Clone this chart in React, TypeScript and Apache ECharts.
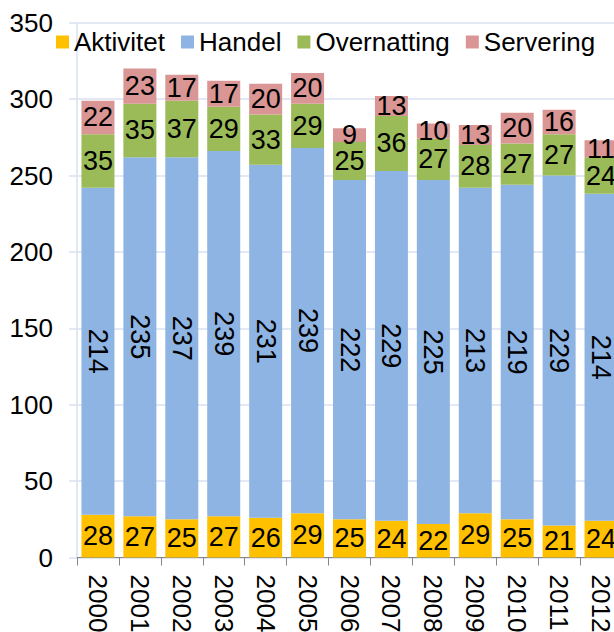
import React, { useEffect, useRef } from "react";
import * as echarts from "echarts";

const years = ["2000", "2001", "2002", "2003", "2004", "2005", "2006", "2007", "2008", "2009", "2010", "2011", "2012"];
const aktivitet = [28, 27, 25, 27, 26, 29, 25, 24, 22, 29, 25, 21, 24];
const handel = [214, 235, 237, 239, 231, 239, 222, 229, 225, 213, 219, 229, 214];
const overnatting = [35, 35, 37, 29, 33, 29, 25, 36, 27, 28, 27, 27, 24];
const servering = [22, 23, 17, 17, 20, 20, 9, 13, 10, 13, 20, 16, 11];

const FONT = "'Liberation Sans', Arial, sans-serif";

export default function App() {
  const ref = useRef<HTMLDivElement>(null);
  useEffect(() => {
    if (!ref.current) return;
    const chart = echarts.init(ref.current, null, { renderer: "svg" });
    const mk = (name: string, data: number[], color: string, rotate = 0) => ({
      name,
      type: "bar",
      stack: "total",
      data,
      barWidth: 33,
      itemStyle: { color },
      label: {
        show: true,
        position: "inside",
        color: "#000",
        fontSize: 27,
        fontFamily: FONT,
        rotate,
      },
    });
    chart.setOption({
      animation: false,
      backgroundColor: "#fff",
      textStyle: { fontFamily: FONT },
      legend: {
        left: 51,
        top: 24,
        itemWidth: 13,
        itemHeight: 13,
        itemGap: 16,
        icon: "rect",
        textStyle: { fontSize: 26, color: "#000", fontFamily: FONT },
        data: ["Aktivitet", "Handel", "Overnatting", "Servering"],
      },
      grid: {
        left: 77,
        width: 545,
        top: 22.7,
        bottom: 74.5,
        containLabel: false,
        outerBoundsMode: "none",
      },
      xAxis: {
        type: "category",
        data: years,
        axisLine: { lineStyle: { color: "#868686", width: 1 } },
        axisTick: { show: true, length: 8, lineStyle: { color: "#868686" } },
        axisLabel: { rotate: -90, margin: 17, fontSize: 26, color: "#000", fontFamily: FONT },
      },
      yAxis: {
        type: "value",
        min: 0,
        max: 350,
        interval: 50,
        axisLine: { show: true, lineStyle: { color: "#D9E2F0", width: 1.5 } },
        axisTick: { show: true, length: 8, lineStyle: { color: "#D9E2F0", width: 1.5 } },
        splitLine: { lineStyle: { color: "#D9E2F0", width: 1.5 } },
        axisLabel: { margin: 24, fontSize: 26, color: "#000", fontFamily: FONT },
      },
      series: [
        mk("Aktivitet", aktivitet, "#FFC000"),
        mk("Handel", handel, "#8EB4E3", -90),
        mk("Overnatting", overnatting, "#9BBB59"),
        mk("Servering", servering, "#D99694"),
      ],
    });
    return () => chart.dispose();
  }, []);
  return (
    <div
      ref={ref}
      style={{ position: "fixed", left: 0, top: 0, width: 614, height: 632, background: "#fff" }}
    />
  );
}
